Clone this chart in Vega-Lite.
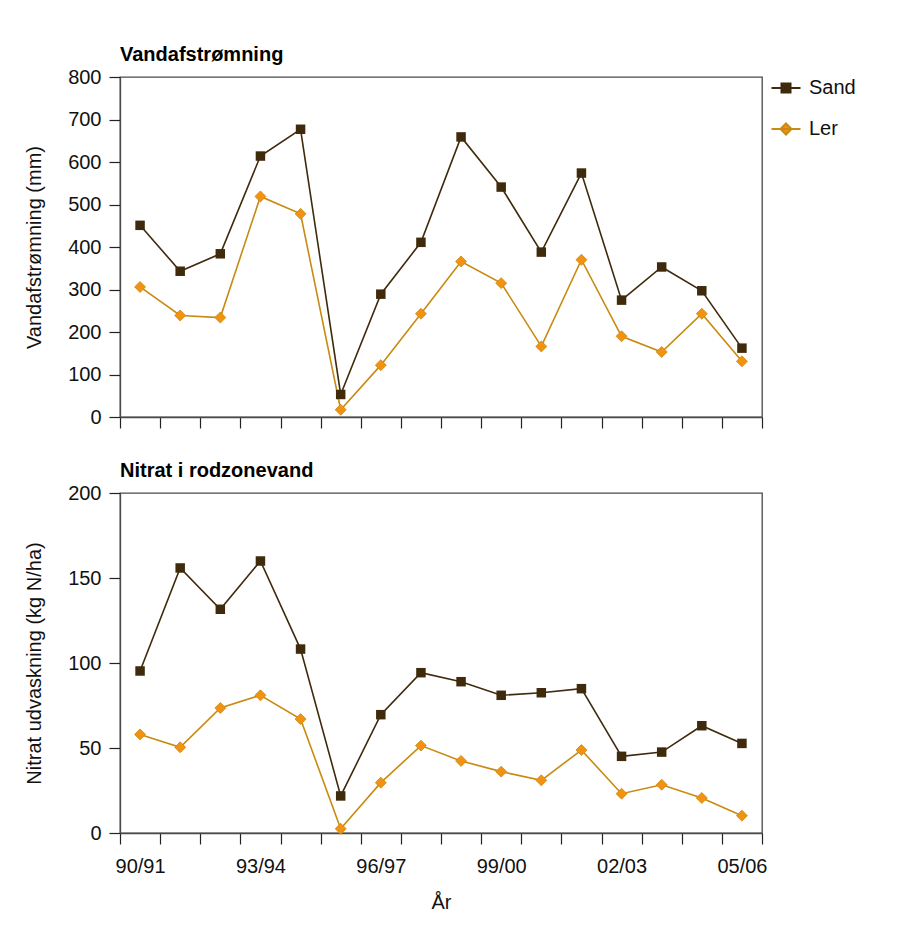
{
  "$schema": "https://vega.github.io/schema/vega-lite/v6.json",
  "padding": {"left": 23, "top": 44, "right": 10, "bottom": 10},
  "background": "white",
  "datasets": {
    "d": [
      {"season": "90/91", "soil": "Sand", "water": 451, "nitrate": 95.3},
      {"season": "91/92", "soil": "Sand", "water": 343, "nitrate": 155.9},
      {"season": "92/93", "soil": "Sand", "water": 384, "nitrate": 131.6},
      {"season": "93/94", "soil": "Sand", "water": 614, "nitrate": 160},
      {"season": "94/95", "soil": "Sand", "water": 677, "nitrate": 108.2},
      {"season": "95/96", "soil": "Sand", "water": 53, "nitrate": 21.8},
      {"season": "96/97", "soil": "Sand", "water": 289, "nitrate": 69.6},
      {"season": "97/98", "soil": "Sand", "water": 411, "nitrate": 94.3},
      {"season": "98/99", "soil": "Sand", "water": 659, "nitrate": 89},
      {"season": "99/00", "soil": "Sand", "water": 541, "nitrate": 81},
      {"season": "00/01", "soil": "Sand", "water": 388, "nitrate": 82.5},
      {"season": "01/02", "soil": "Sand", "water": 574, "nitrate": 84.9},
      {"season": "02/03", "soil": "Sand", "water": 275, "nitrate": 45.1},
      {"season": "03/04", "soil": "Sand", "water": 353, "nitrate": 47.6},
      {"season": "04/05", "soil": "Sand", "water": 297, "nitrate": 63.1},
      {"season": "05/06", "soil": "Sand", "water": 162, "nitrate": 52.7},
      {"season": "90/91", "soil": "Ler", "water": 306, "nitrate": 58},
      {"season": "91/92", "soil": "Ler", "water": 239, "nitrate": 50.4},
      {"season": "92/93", "soil": "Ler", "water": 234, "nitrate": 73.5},
      {"season": "93/94", "soil": "Ler", "water": 519, "nitrate": 81},
      {"season": "94/95", "soil": "Ler", "water": 478, "nitrate": 67},
      {"season": "95/96", "soil": "Ler", "water": 17, "nitrate": 2.5},
      {"season": "96/97", "soil": "Ler", "water": 122, "nitrate": 29.6},
      {"season": "97/98", "soil": "Ler", "water": 243, "nitrate": 51.4},
      {"season": "98/99", "soil": "Ler", "water": 366, "nitrate": 42.4},
      {"season": "99/00", "soil": "Ler", "water": 315, "nitrate": 36.1},
      {"season": "00/01", "soil": "Ler", "water": 166, "nitrate": 31},
      {"season": "01/02", "soil": "Ler", "water": 370, "nitrate": 48.8},
      {"season": "02/03", "soil": "Ler", "water": 190, "nitrate": 23.1},
      {"season": "03/04", "soil": "Ler", "water": 153, "nitrate": 28.4},
      {"season": "04/05", "soil": "Ler", "water": 243, "nitrate": 20.6},
      {"season": "05/06", "soil": "Ler", "water": 131, "nitrate": 10.2}
    ]
  },
  "spacing": 30,
  "vconcat": [
    {
      "width": 642,
      "height": 340,
      "title": {"text": "Vandafstrømning"},
      "data": {"name": "d"},
      "encoding": {
        "x": {"field": "season", "type": "ordinal", "sort": null,
              "scale": {"type": "band", "paddingInner": 0, "paddingOuter": 0},
              "axis": {"labels": false, "title": null, "tickBand": "extent"}},
        "y": {"field": "water", "type": "quantitative",
              "scale": {"domain": [0, 800], "nice": false},
              "axis": {"values": [0, 100, 200, 300, 400, 500, 600, 700, 800], "title": "Vandafstrømning (mm)"}}
      },
      "layer": [
        {
          "mark": {"type": "line", "strokeWidth": 1.6},
          "encoding": {
            "color": {"field": "soil", "type": "nominal",
                      "scale": {"domain": ["Sand", "Ler"], "range": ["#3f2a0c", "#c88a10"]},
                      "legend": {"title": null}},
            "order": {"value": null}
          }
        },
        {
          "transform": [{"filter": "datum.soil === 'Sand'"}],
          "mark": {"type": "point", "filled": true, "opacity": 1, "shape": "square", "size": 90, "color": "#3f2a0c"}
        },
        {
          "transform": [{"filter": "datum.soil === 'Ler'"}],
          "mark": {"type": "point", "filled": true, "opacity": 1, "shape": "diamond", "size": 120, "fill": "#f39210", "stroke": "#c88a10", "strokeWidth": 0.8}
        },
        {
          "transform": [{"filter": "datum.soil === 'none'"}],
          "mark": {"type": "point", "filled": true, "opacity": 1},
          "encoding": {
            "fill": {"field": "soil", "type": "nominal",
                     "scale": {"domain": ["Sand", "Ler"], "range": ["#3f2a0c", "#f39210"]},
                     "legend": {"title": null}},
            "shape": {"field": "soil", "type": "nominal",
                      "scale": {"domain": ["Sand", "Ler"], "range": ["M-1.45,0H1.45M-0.45,-0.45H0.45V0.45H-0.45Z", "M-1.45,0H1.45M0,-0.55L0.55,0L0,0.55L-0.55,0Z"]},
                      "legend": {"title": null}}
          }
        }
      ]
    },
    {
      "width": 642,
      "height": 340,
      "title": {"text": "Nitrat i rodzonevand"},
      "data": {"name": "d"},
      "encoding": {
        "x": {"field": "season", "type": "ordinal", "sort": null,
              "scale": {"type": "band", "paddingInner": 0, "paddingOuter": 0},
              "axis": {"title": "År", "tickBand": "extent", "labelAngle": 0, "labelOverlap": false,
                       "labelExpr": "indexof(['90/91','93/94','96/97','99/00','02/03','05/06'], datum.value) >= 0 ? datum.label : ''"}},
        "y": {"field": "nitrate", "type": "quantitative",
              "scale": {"domain": [0, 200], "nice": false},
              "axis": {"values": [0, 50, 100, 150, 200], "title": "Nitrat udvaskning (kg N/ha)"}}
      },
      "layer": [
        {
          "mark": {"type": "line", "strokeWidth": 1.6},
          "encoding": {
            "color": {"field": "soil", "type": "nominal",
                      "scale": {"domain": ["Sand", "Ler"], "range": ["#3f2a0c", "#c88a10"]},
                      "legend": {"title": null}},
            "order": {"value": null}
          }
        },
        {
          "transform": [{"filter": "datum.soil === 'Sand'"}],
          "mark": {"type": "point", "filled": true, "opacity": 1, "shape": "square", "size": 90, "color": "#3f2a0c"}
        },
        {
          "transform": [{"filter": "datum.soil === 'Ler'"}],
          "mark": {"type": "point", "filled": true, "opacity": 1, "shape": "diamond", "size": 120, "fill": "#f39210", "stroke": "#c88a10", "strokeWidth": 0.8}
        }
      ]
    }
  ],
  "config": {
    "font": "Liberation Sans",
    "view": {"stroke": "#4a4a4a", "strokeWidth": 1.3},
    "title": {"fontSize": 20, "fontWeight": "bold", "anchor": "start", "frame": "group", "color": "#000", "offset": 2, "font": "Liberation Sans"},
    "axis": {
      "grid": false,
      "domainColor": "#4a4a4a",
      "domainWidth": 1.3,
      "tickColor": "#222",
      "tickWidth": 1.2,
      "tickSize": 11,
      "labelFontSize": 20,
      "labelColor": "#111",
      "labelPadding": 8,
      "titleFontSize": 20,
      "titleFontWeight": "normal",
      "titleColor": "#111",
      "titlePadding": 23
    },
    "axisX": {"labelPadding": 12, "titlePadding": 16},
    "legend": {
      "orient": "right",
      "offset": 7,
      "padding": 0,
      "labelFontSize": 20,
      "labelColor": "#111",
      "labelOffset": 12,
      "symbolSize": 400,
      "symbolStrokeWidth": 2,
      "rowPadding": 20
    }
  }
}
